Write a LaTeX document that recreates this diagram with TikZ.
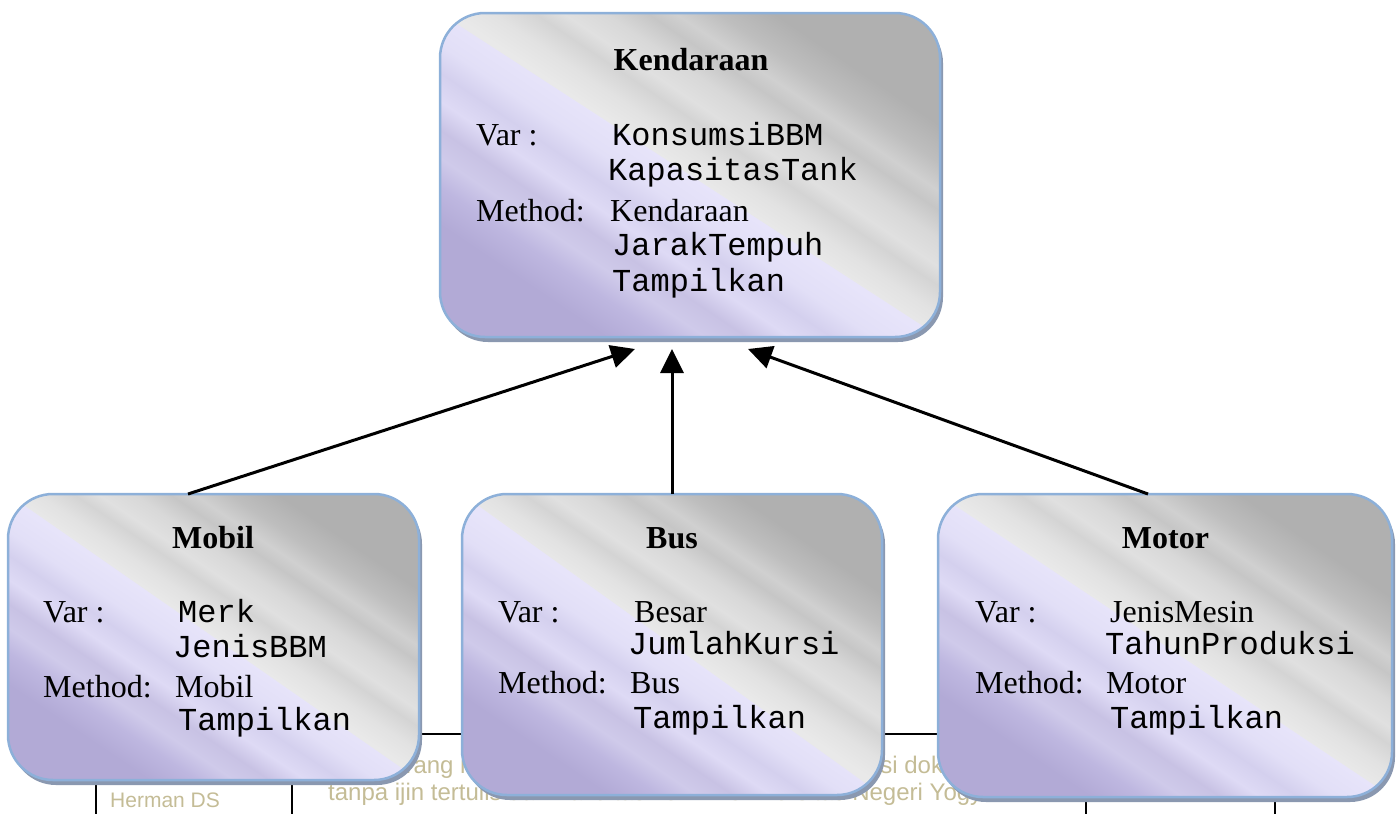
\documentclass[tikz,border=0pt]{standalone}
\usepackage{fontspec}
\setmainfont{Liberation Serif}
\setmonofont{Liberation Mono}
\newfontfamily\footfont{Liberation Sans}
\usetikzlibrary{arrows.meta,calc,shadows}
\definecolor{bordercol}{RGB}{141,176,217}
\definecolor{shadowcol}{RGB}{138,152,176}
\definecolor{foottext}{RGB}{196,188,150}
\definecolor{gA}{RGB}{233,233,233}
\definecolor{gB}{RGB}{226,226,226}
\definecolor{gC}{RGB}{212,212,212}
\definecolor{gD}{RGB}{224,224,224}
\definecolor{gE}{RGB}{216,216,216}
\definecolor{gF}{RGB}{198,198,198}
\definecolor{gG}{RGB}{208,208,208}
\definecolor{gH}{RGB}{190,190,190}
\definecolor{gI}{RGB}{176,176,176}
\definecolor{lA}{RGB}{231,228,250}
\definecolor{lB}{RGB}{226,223,247}
\definecolor{lC}{RGB}{212,208,238}
\definecolor{lD}{RGB}{222,218,245}
\definecolor{lE}{RGB}{200,194,228}
\definecolor{lF}{RGB}{207,202,234}
\definecolor{lG}{RGB}{190,183,224}
\definecolor{lH}{RGB}{178,170,214}
\pgfdeclarehorizontalshading{grayshine}{100bp}{color(0bp)=(gA); color(50bp)=(gA); color(53bp)=(gB); color(56bp)=(gC); color(58bp)=(gD); color(61bp)=(gE); color(64bp)=(gF); color(66bp)=(gG); color(69bp)=(gH); color(73bp)=(gI); color(100bp)=(gI)}
\pgfdeclarehorizontalshading{lavshine}{100bp}{color(0bp)=(lH); color(27bp)=(lH); color(31bp)=(lG); color(34bp)=(lF); color(37bp)=(lE); color(40bp)=(lD); color(43bp)=(lC); color(46bp)=(lB); color(50bp)=(lA); color(100bp)=(lA)}
\tikzset{
  classbox/.style={draw=bordercol, line width=2.5pt, rounded corners=45pt, inner sep=0pt, outer sep=0pt,
    drop shadow={shadow xshift=3pt, shadow yshift=-5pt, fill=shadowcol, opacity=1, draw=none},
    path picture={
      \shade[sharp corners, shading=lavshine, shading angle=56]
        (path picture bounding box.south west) rectangle (path picture bounding box.north east);
      \shade[sharp corners, shading=grayshine, shading angle=56]
        (path picture bounding box.north west) -- (path picture bounding box.north east)
        -- (path picture bounding box.south east) -- cycle;
    }},
  titletext/.style={font=\fontsize{32}{38}\selectfont\bfseries, inner sep=0pt, anchor=base},
  lbl/.style={font=\fontsize{32}{38}\selectfont, inner sep=0pt, anchor=base west},
  mono/.style={font=\fontsize{32}{38}\selectfont\ttfamily, inner sep=0pt, anchor=base west},
  foot/.style={font=\footfont\fontsize{24}{28}\selectfont, text=foottext, inner sep=0pt, anchor=base west},
  tableline/.style={line width=2pt, black},
  inherit/.style={line width=3pt, -{Triangle[length=24pt,width=23pt]}}
}
\begin{document}
\begin{tikzpicture}[x=1pt,y=-1pt]
\useasboundingbox (0,0) rectangle (1399,814);
% footer table (behind)
\draw[tableline] (96,734) -- (1275,734);
\draw[tableline] (96,734) -- (96,814);
\draw[tableline] (292,734) -- (292,814);
\draw[tableline] (1086,734) -- (1086,814);
\draw[tableline] (1275,734) -- (1275,814);
\node[foot] (foot1) at (364,773) {Dilarang memperbanyak sebagian atau seluruh isi dokumen};
\node[foot] (foot2) at (328,800) {tanpa ijin tertulis dari Fakultas Teknik Universitas Negeri Yogyakarta};
\node[foot, font=\footfont\fontsize{21}{25}\selectfont] (herman) at (110,807) {Herman DS};

% boxes
\node[classbox, minimum width=500pt, minimum height=324pt] (ken) at (690,175) {};
\node[classbox, minimum width=411pt, minimum height=286pt] (mob) at (213.5,637) {};
\node[classbox, minimum width=420pt, minimum height=301pt] (bus) at (672,644.5) {};
\node[classbox, minimum width=454pt, minimum height=303pt] (mot) at (1165,645.5) {};

% arrows
\draw[inherit] ($(mob.north)+(-25.5,0)$) -- ($(ken.south)+(-55,12)$);
\draw[inherit] (bus.north) -- ($(ken.south)+(-18,12)$);
\draw[inherit] ($(mot.north)+(-17,0)$) -- ($(ken.south)+(58,12)$);

% Kendaraan
\node[titletext] (kent) at (691,70) {Kendaraan};
\node[lbl] (kenv) at (476,145) {Var :};
\node[mono] (kenv1) at (612,145) {KonsumsiBBM};
\node[mono] (kenv2) at (608,180) {KapasitasTank};
\node[lbl] (kenm) at (476,221) {Method:};
\node[lbl] (kenm1) at (610,221) {Kendaraan};
\node[mono] (kenm2) at (612,255) {JarakTempuh};
\node[mono] (kenm3) at (612,291) {Tampilkan};

% Mobil
\node[titletext] (mobt) at (213,548) {Mobil};
\node[lbl] (mobv) at (43,622) {Var :};
\node[mono] (mobv1) at (178,622) {Merk};
\node[mono] (mobv2) at (173,657) {JenisBBM};
\node[lbl] (mobm) at (43,697) {Method:};
\node[lbl] (mobm1) at (175,697) {Mobil};
\node[mono] (mobm2) at (178,730) {Tampilkan};

% Bus
\node[titletext] (bust) at (672,548) {Bus};
\node[lbl] (busv) at (498,622) {Var :};
\node[lbl] (busv1) at (634,622) {Besar};
\node[mono] (busv2) at (628,654) {JumlahKursi};
\node[lbl] (busm) at (498,693) {Method:};
\node[lbl] (busm1) at (630,693) {Bus};
\node[mono] (busm2) at (633,728) {Tampilkan};

% Motor
\node[titletext] (mott) at (1165.5,548) {Motor};
\node[lbl] (motv) at (975,622) {Var :};
\node[lbl] (motv1) at (1110,622) {JenisMesin};
\node[mono] (motv2) at (1105,654) {TahunProduksi};
\node[lbl] (motm) at (975,693) {Method:};
\node[lbl] (motm1) at (1106,693) {Motor};
\node[mono] (motm2) at (1110,728) {Tampilkan};
\end{tikzpicture}
\end{document}
